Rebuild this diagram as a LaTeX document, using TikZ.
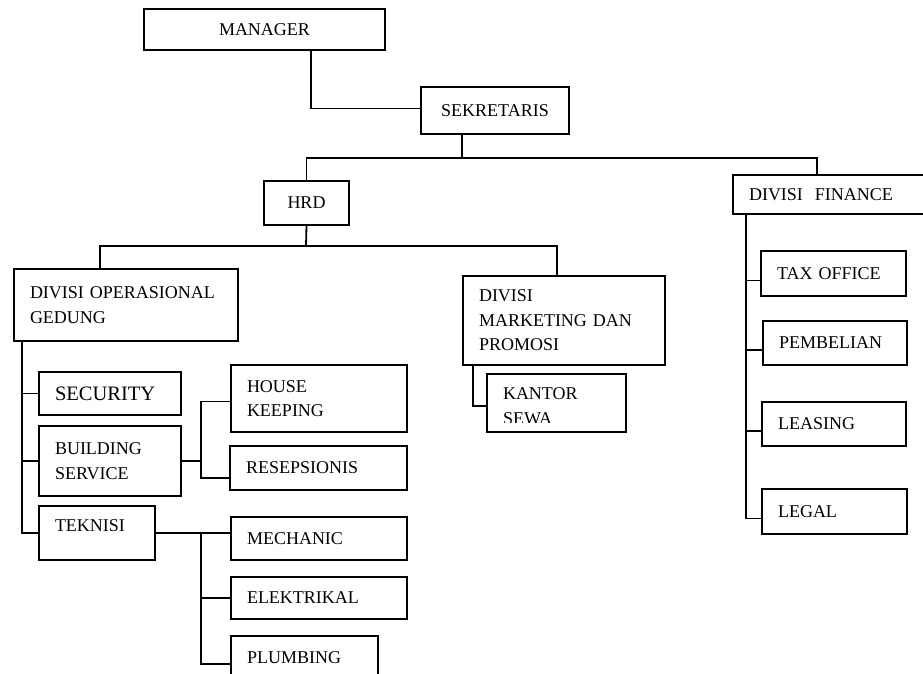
\documentclass[tikz,border=0pt]{standalone}
\usepackage{fontspec}
\setmainfont{Liberation Serif}
\tikzset{
	kotak/.style 2 args={draw, rectangle, line width=1.8pt, anchor=north west, outer sep=0pt, inner xsep=16pt, inner ysep=0pt, text width=#1, minimum height=#2, align=left, font=\fontsize{18pt}{24.5pt}\selectfont},
	garis/.style={line width=1.8pt},
}
\begin{document}
\begin{tikzpicture}[ x=1pt, y=-1pt]
			\useasboundingbox (0,0) rectangle (923,674);
			%Kotak jabatan
			\node[kotak={209pt}{41pt}, align=center] (manager) at (144,9) {MANAGER};
			\node[kotak={116pt}{47pt}, align=center] (sekretaris) at (421,87) {SEKRETARIS};
			\node[kotak={53pt}{44pt}, align=center] (hrd) at (264,181) {HRD};
			\node[kotak={160pt}{39pt}] (finance) at (733,175) {DIVISI\ \ FINANCE};
			\node[kotak={192pt}{72pt}] (operasional) at (14,269) {DIVISI OPERASIONAL\\GEDUNG};
			\node[kotak={170pt}{89pt}] (marketing) at (463,276) {DIVISI\\MARKETING DAN\\PROMOSI};
			\begin{scope}
				\clip (470,360) rectangle (640,422);
				\node[kotak={107pt}{58pt}, text height=18pt] (kantor) at (487,374) {KANTOR\\SEWA};
			\end{scope}
			\draw[garis] (kantor.north west) rectangle (kantor.south east);
			\node[kotak={113pt}{45pt}] (tax) at (761,251) {TAX OFFICE};
			\node[kotak={112pt}{44pt}] (pembelian) at (763,321) {PEMBELIAN};
			\node[kotak={112pt}{44pt}] (leasing) at (762,402) {LEASING};
			\node[kotak={113pt}{45pt}] (legal) at (762,489) {LEGAL};
			\node[kotak={110pt}{43pt}, font=\fontsize{20.5pt}{24pt}\selectfont] (security) at (39,372) {SECURITY};
			\node[kotak={110pt}{70pt}] (building) at (39,426) {BUILDING\\SERVICE};
			\node[kotak={84pt}{54pt}, text depth=14pt] (teknisi) at (39,506) {TEKNISI};
			\node[kotak={144pt}{67pt}] (housekeeping) at (231,365) {HOUSE\\KEEPING};
			\node[kotak={145pt}{44pt}] (resepsionis) at (230,446) {RESEPSIONIS};
			\node[kotak={144pt}{43pt}] (mechanic) at (231,517) {MECHANIC};
			\node[kotak={144pt}{42pt}] (elektrikal) at (231,577) {ELEKTRIKAL};
			\node[kotak={115pt}{44pt}] (plumbing) at (231,636) {PLUMBING};
			%Titik cabang
			\coordinate (cabang1) at (462,158);
			\coordinate (cabang2) at (306,246);
			\coordinate (fspine) at ([xshift=13pt]finance.south west);
			\coordinate (ospine) at ([xshift=8pt]operasional.south west);
			\coordinate (bspine) at ([xshift=20pt]building.east);
			\coordinate (tspine) at ([xshift=46pt]teknisi.east);
			%Garis penghubung
			\draw[garis] ([xshift=167pt]manager.south west) |- ([yshift=2pt]sekretaris.west);
			\draw[garis] ([xshift=41pt]sekretaris.south west) -- (cabang1);
			\draw[garis] (hrd.north) |- (cabang1) -| ([xshift=84pt]finance.north west);
			\draw[garis] (hrd.south) -- (cabang2);
			\draw[garis] ([xshift=86pt]operasional.north west) |- (cabang2) -| ([xshift=94pt]marketing.north west);
			\draw[garis] ([xshift=10pt]marketing.south west) |- ([yshift=-3pt]kantor.west);
			\draw[garis] (fspine) |- ([yshift=-7pt]legal.west);
			\foreach \n in {tax,pembelian,leasing}
				\draw[garis] ([yshift=-7pt]\n.west) -- ([yshift=-7pt]\n.west -| fspine);
			\draw[garis] (ospine) |- (teknisi.west);
			\foreach \n in {security,building}
				\draw[garis] (\n.west) -- (\n.west -| ospine);
			\draw[garis] (building.east) -- (bspine);
			\draw[garis] ([yshift=-3pt]housekeeping.west) -| ([yshift=-10pt]resepsionis.west -| bspine) -- ([yshift=-10pt]resepsionis.west);
			\draw[garis] (teknisi.east) -- (teknisi.east -| mechanic.west);
			\draw[garis] (tspine) |- ([yshift=-6pt]plumbing.west);
			\draw[garis] (elektrikal.west) -- (elektrikal.west -| tspine);
		\end{tikzpicture}
\end{document}
